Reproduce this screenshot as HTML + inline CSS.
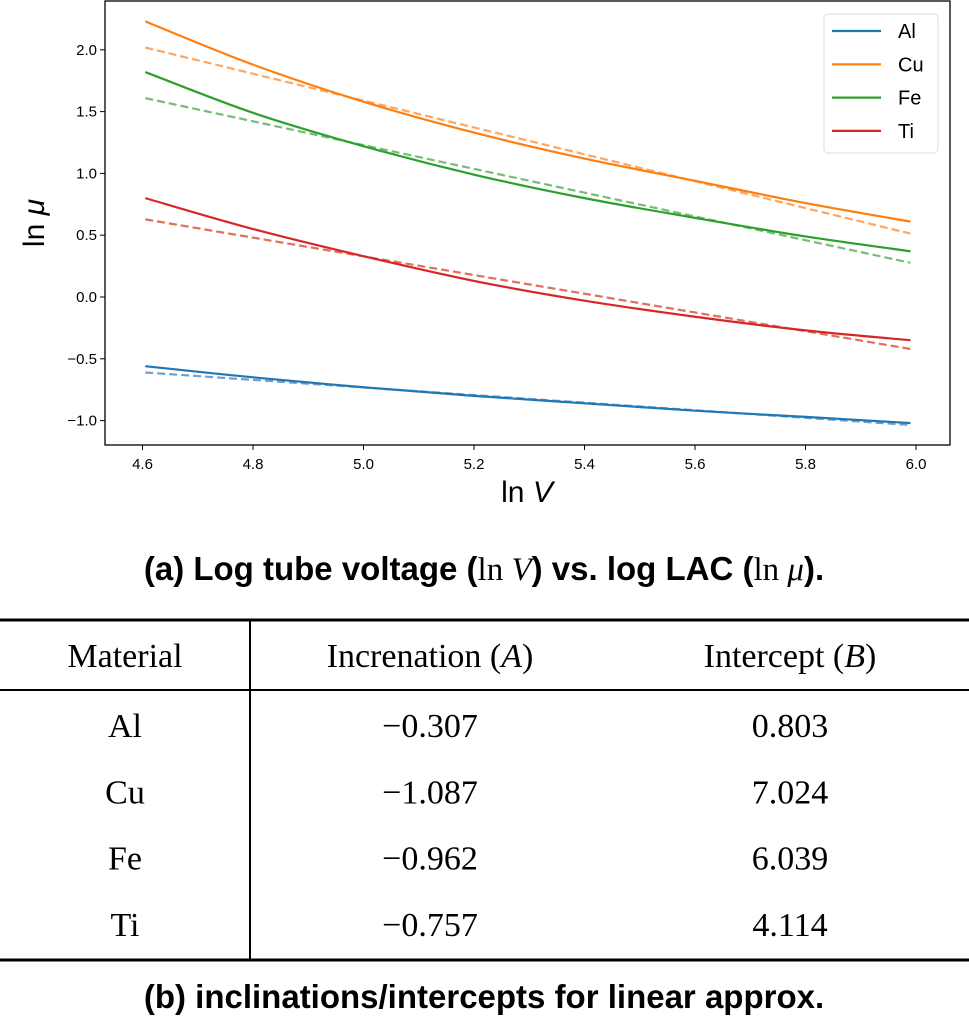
<!DOCTYPE html>
<html><head><meta charset="utf-8"><style>
body{margin:0;background:#fff;width:969px;height:1016px;overflow:hidden}
svg{display:block}
.tk{font-family:"Liberation Sans",sans-serif;font-size:15px;fill:#000}
.cap{font-family:"Liberation Sans",sans-serif;font-size:33px;font-weight:bold;fill:#000}
.tb{font-family:"Liberation Serif",serif;font-size:34px;fill:#000}
.lg{font-family:"Liberation Sans",sans-serif;font-size:20px;fill:#000}
</style></head><body>
<svg id="fig" width="969" height="1016">
<g id="chart"></g>
<text class="cap" x="484" y="580" text-anchor="middle">(a) Log tube voltage (<tspan font-family="Liberation Serif" font-weight="normal">ln </tspan><tspan font-family="Liberation Serif" font-weight="normal" font-style="italic">V</tspan>) vs. log LAC (<tspan font-family="Liberation Serif" font-weight="normal">ln </tspan><tspan font-family="Liberation Serif" font-weight="normal" font-style="italic">μ</tspan>).</text>
<g>
<line x1="0" y1="620" x2="969" y2="620" stroke="#000" stroke-width="3"/>
<line x1="0" y1="690" x2="969" y2="690" stroke="#000" stroke-width="2"/>
<line x1="0" y1="960" x2="969" y2="960" stroke="#000" stroke-width="3"/>
<line x1="250" y1="620" x2="250" y2="960" stroke="#000" stroke-width="2"/>
<g id="tbl"></g>
</g>
<text class="cap" x="484" y="1008" text-anchor="middle">(b) inclinations/intercepts for linear approx.</text>
</svg>
<script>
const xs=[4.605,4.8,5.0,5.2,5.4,5.6,5.8,5.99];
const materials=["Al","Cu","Fe","Ti"];
const colors=["#1f77b4","#ff7f0e","#2ca02c","#d62728"];
const dashColors=["#6f9fcf","#ffa55f","#75bd75","#e0705a"];
const alValues=[-0.56,-0.65,-0.73,-0.80,-0.86,-0.92,-0.97,-1.02];
const cuValues=[2.23,1.88,1.58,1.33,1.12,0.94,0.76,0.61];
const feValues=[1.82,1.49,1.22,0.99,0.80,0.64,0.49,0.37];
const tiValues=[0.80,0.55,0.33,0.13,-0.03,-0.16,-0.27,-0.35];
const slopes=[-0.307,-1.087,-0.962,-0.757];
const intercepts=[0.803,7.024,6.039,4.114];
const xTicks=[4.6,4.8,5.0,5.2,5.4,5.6,5.8,6.0];
const yTicks=[-1.0,-0.5,0.0,0.5,1.0,1.5,2.0];
const NS="http://www.w3.org/2000/svg";
const sx=v=>142.5+(v-4.6)/0.2*110.5;
const sy=v=>297-v/0.5*61.8;
function mk(p,t,a){const e=document.createElementNS(NS,t);for(const k in a)e.setAttribute(k,a[k]);p.appendChild(e);return e;}
const g=document.getElementById('chart');
const series=[alValues,cuValues,feValues,tiValues];
function smooth(P){
 let d='M'+P[0][0]+','+P[0][1];
 for(let i=0;i<P.length-1;i++){
  const p0=P[Math.max(0,i-1)],p1=P[i],p2=P[i+1],p3=P[Math.min(P.length-1,i+2)];
  const c1=[p1[0]+(p2[0]-p0[0])/6,p1[1]+(p2[1]-p0[1])/6];
  const c2=[p2[0]-(p3[0]-p1[0])/6,p2[1]-(p3[1]-p1[1])/6];
  d+=' C'+c1[0]+','+c1[1]+' '+c2[0]+','+c2[1]+' '+p2[0]+','+p2[1];
 }
 return d;
}
series.forEach((vals,i)=>{
 const d=mk(g,'line',{x1:sx(xs[0]),y1:sy(slopes[i]*xs[0]+intercepts[i]),x2:sx(xs[xs.length-1]),y2:sy(slopes[i]*xs[xs.length-1]+intercepts[i]),stroke:dashColors[i],'stroke-width':2.2,'stroke-dasharray':'8,4'});
 
 
 const P=xs.map((x,k)=>[sx(x),sy(vals[k])]);
 const p=mk(g,'path',{d:smooth(P),fill:'none',stroke:colors[i],'stroke-width':2.2,'stroke-linejoin':'round'});
 
 
});
const fr=mk(g,'rect',{x:105,y:1,width:845,height:444,fill:'none',stroke:'#000','stroke-width':1.3});


xTicks.forEach(t=>{
 mk(g,'line',{x1:sx(t),y1:445,x2:sx(t),y2:450,stroke:'#000'});
 const tx=mk(g,'text',{x:sx(t),y:469,class:'tk','text-anchor':'middle'});tx.textContent=t.toFixed(1);
 
 
});
yTicks.forEach(t=>{
 mk(g,'line',{x1:100,y1:sy(t),x2:105,y2:sy(t),stroke:'#000'});
 const tx=mk(g,'text',{x:97,y:sy(t)+5,class:'tk','text-anchor':'end'});tx.textContent=(t<0?'\u2212':'')+Math.abs(t).toFixed(1);
 
 
});
const xl=mk(g,'text',{x:527,y:502,'font-family':'Liberation Sans, sans-serif','font-size':30,'text-anchor':'middle'});
xl.innerHTML='ln <tspan font-style="italic">V</tspan>';


const yl=mk(g,'text',{x:0,y:0,'font-family':'Liberation Sans, sans-serif','font-size':30,'text-anchor':'middle',transform:'translate(44,223) rotate(-90)'});
yl.innerHTML='ln <tspan font-style="italic">μ</tspan>';


const lgG=mk(g,'g',{});


mk(lgG,'rect',{x:824,y:14,width:114,height:139,rx:4,fill:'#fff',stroke:'#ddd'});
materials.forEach((m,i)=>{
 const y=31+i*33.3;
 mk(lgG,'line',{x1:832,y1:y,x2:881,y2:y,stroke:colors[i],'stroke-width':2.2});
 const t=mk(lgG,'text',{x:898,y:y+7,class:'lg'});t.textContent=m;
 
 
});
const tb=document.getElementById('tbl');
const hdr=[['Material',125],['Increnation (<tspan font-style="italic">A</tspan>)',430],['Intercept (<tspan font-style="italic">B</tspan>)',790]];
hdr.forEach(h=>{const t=mk(tb,'text',{x:h[1],y:667,class:'tb','text-anchor':'middle'});t.innerHTML=h[0];
 
 });
materials.forEach((m,i)=>{
 const y=737+i*66.3;
 const vals=[m,'\u2212'+Math.abs(slopes[i]).toFixed(3),intercepts[i].toFixed(3)];
 [125,430,790].forEach((x,j)=>{const t=mk(tb,'text',{x:x,y:y,class:'tb','text-anchor':'middle'});t.textContent=vals[j];
  
  });
});
</script>
</body></html>
